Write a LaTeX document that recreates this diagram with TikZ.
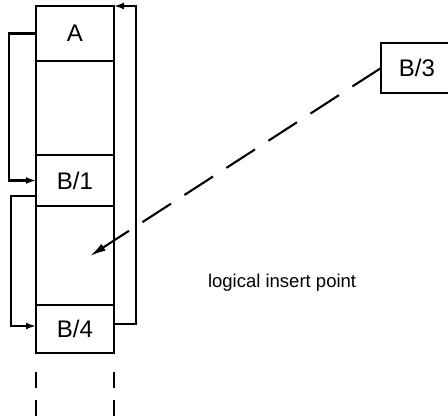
\documentclass[tikz,border=0pt]{standalone}
\usepackage{fontspec}
\setmainfont{Liberation Sans}
\usetikzlibrary{positioning}
\usetikzlibrary{arrows.meta}

\begin{document}
\begin{tikzpicture}[x=1pt,y=-1pt,line width=2.1pt,
    cell/.style={draw,minimum width=78pt,inner sep=0pt,outer sep=0pt,font=\fontsize{24}{28}\selectfont},
    link/.style={-{Latex[length=10pt,width=7pt]}},
    tail/.style={dash pattern=on 16pt off 12pt}]
  \useasboundingbox (0,0) rectangle (448,417);

  \node[cell,minimum height=55pt] (A) at (75,33.5) {A};
  \node[cell,minimum height=94pt,below=0pt of A] (gapA) {};
  \node[cell,minimum height=51pt,below=0pt of gapA] (B1) {B/1};
  \node[cell,minimum height=99pt,below=0pt of B1] (gapB) {};
  \node[cell,minimum height=48pt,below=0pt of gapB] (B4) {B/4};
  \node[cell,minimum width=72pt,minimum height=50pt] (B3) at (417,68) {B/3};
  \coordinate (ins) at (90,256);
  \node[anchor=west,inner sep=0pt,font=\fontsize{18.5}{20}\selectfont] (note) at (207,283) {logical insert point};

  \draw[link] (A.west) -- ++(-27,0) |- (B1.west);
  \draw[link] ([yshift=10pt]B1.south west) -- ++(-25,0) |- ([yshift=3pt]B4.west);
  \draw[link] ([yshift=5pt]B4.east) -- ++(22,0) |- (A.north east);
  \draw[-{Latex[length=16pt,width=8pt]},dash pattern=on 34pt off 16pt] (B3.west) -- (ins);

  \draw[tail] ([yshift=-19pt]B4.south west) -- ++(0,50);
  \draw[tail] ([yshift=-19pt]B4.south east) -- ++(0,50);
\end{tikzpicture}
\end{document}
